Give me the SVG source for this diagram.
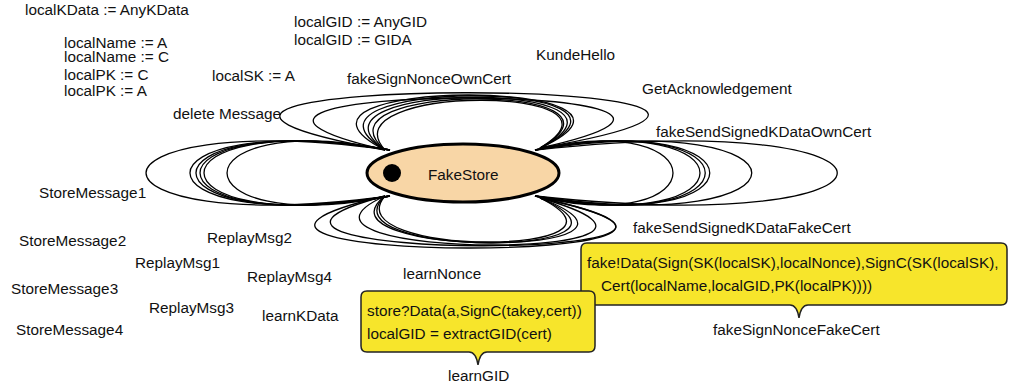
<svg xmlns="http://www.w3.org/2000/svg" width="1013" height="389" viewBox="0 0 1013 389">
<style>
text{font-family:"Liberation Sans",Arial,sans-serif;font-size:15.3px;fill:#111}
.loop{fill:none;stroke:#000;stroke-width:1.3}
.note{fill:#f7e52b;stroke:#222;stroke-width:1.5}
</style>
<rect width="1013" height="389" fill="#fff"/>
<g id="connectors">
<!-- top cluster -->
<path class="loop" d="M385,150 C-35,74 967,74 540,148"/>
<path class="loop" d="M385,150 C84.5,81 844.5,81 540,148"/>
<path class="loop" d="M385,150 C240.5,77 697.5,77 540,148"/>
<path class="loop" d="M385,150 C265.5,78 684.5,78 540,148"/>
<path class="loop" d="M385,150 C285,80 670.5,80 540,148"/>
<path class="loop" d="M385,150 C305,82 655.5,82 540,148"/>
<path class="loop" d="M385,150 C324.5,84 647.5,84 540,148"/>
<!-- left cluster -->
<path class="loop" d="M390,150 C64.7,106 64.7,240 390,196"/>
<path class="loop" d="M390,150 C123.3,106 123.3,240 390,196"/>
<path class="loop" d="M390,150 C131.3,106 131.3,240 390,196"/>
<path class="loop" d="M390,150 C136.7,106 136.7,240 390,196"/>
<path class="loop" d="M390,150 C142,106 142,240 390,196"/>
<path class="loop" d="M390,150 C172.7,106 172.7,240 390,196"/>
<!-- right cluster -->
<path class="loop" d="M535,150 C719,106 719,240 535,196"/>
<path class="loop" d="M535,150 C755,106 755,240 535,196"/>
<path class="loop" d="M535,150 C762,106 762,240 535,196"/>
<path class="loop" d="M535,150 C768,106 768,240 535,196"/>
<path class="loop" d="M535,150 C824,106 824,240 535,196"/>
<path class="loop" d="M535,150 C938,106 938,240 535,196"/>
<!-- bottom cluster -->
<path class="loop" d="M385,196 C87.5,265 850.5,265 540,198"/>
<path class="loop" d="M385,196 C135,262 840.5,262 540,198"/>
<path class="loop" d="M385,196 C240.5,261 762,261 540,198"/>
<path class="loop" d="M385,196 C305,258 697.5,258 540,198"/>
<path class="loop" d="M385,196 C319.5,258 676.5,258 540,198"/>
<path class="loop" d="M385,196 C332.5,257 659.5,257 540,198"/>
</g>
<g id="FakeStore">
<ellipse cx="463" cy="173" rx="96" ry="29" fill="#f8d6a6" stroke="#000" stroke-width="3"/>
<circle cx="392" cy="173" r="9" fill="#000"/>
<text x="428" y="180">FakeStore</text>
</g>
<g id="labels">
<text x="25" y="15">localKData := AnyKData</text>
<text x="64" y="48">localName := A</text>
<text x="64" y="62">localName := C</text>
<text x="64" y="80">localPK := C</text>
<text x="64" y="96">localPK := A</text>
<text x="212" y="81">localSK := A</text>
<text x="294" y="27">localGID := AnyGID</text>
<text x="294" y="45">localGID := GIDA</text>
<text x="536" y="60">KundeHello</text>
<text x="347" y="84">fakeSignNonceOwnCert</text>
<text x="642" y="94">GetAcknowledgement</text>
<text x="173" y="119">delete Message</text>
<text x="656" y="137">fakeSendSignedKDataOwnCert</text>
<text x="39" y="198">StoreMessage1</text>
<text x="633" y="233">fakeSendSignedKDataFakeCert</text>
<text x="19" y="246">StoreMessage2</text>
<text x="207" y="243">ReplayMsg2</text>
<text x="135" y="268">ReplayMsg1</text>
<text x="247" y="282">ReplayMsg4</text>
<text x="11" y="294">StoreMessage3</text>
<text x="149" y="313">ReplayMsg3</text>
<text x="262" y="321">learnKData</text>
<text x="16" y="335">StoreMessage4</text>
<text x="403" y="279">learnNonce</text>
<text x="713" y="335">fakeSignNonceFakeCert</text>
<text x="448" y="381">learnGID</text>
</g>
<g id="note-fakeSignNonceFakeCert">
<path class="note" d="M587,243 H1001 Q1007,243 1007,249 V299 Q1007,305 1001,305 H808 Q801,305 799,318 Q797,305 790,305 H587 Q581,305 581,299 V249 Q581,243 587,243 Z"/>
<text x="587" y="268">fake!Data(Sign(SK(localSK),localNonce),SignC(SK(localSK),</text>
<text x="601" y="291">Cert(localName,localGID,PK(localPK))))</text>
</g>
<g id="note-learnGID">
<path class="note" d="M367,291 H589 Q595,291 595,297 V346 Q595,352 589,352 H487 Q480,352 478,365 Q476,352 469,352 H367 Q361,352 361,346 V297 Q361,291 367,291 Z"/>
<text x="367" y="316">store?Data(a,SignC(takey,cert))</text>
<text x="367" y="339">localGID = extractGID(cert)</text>
</g>
</svg>
